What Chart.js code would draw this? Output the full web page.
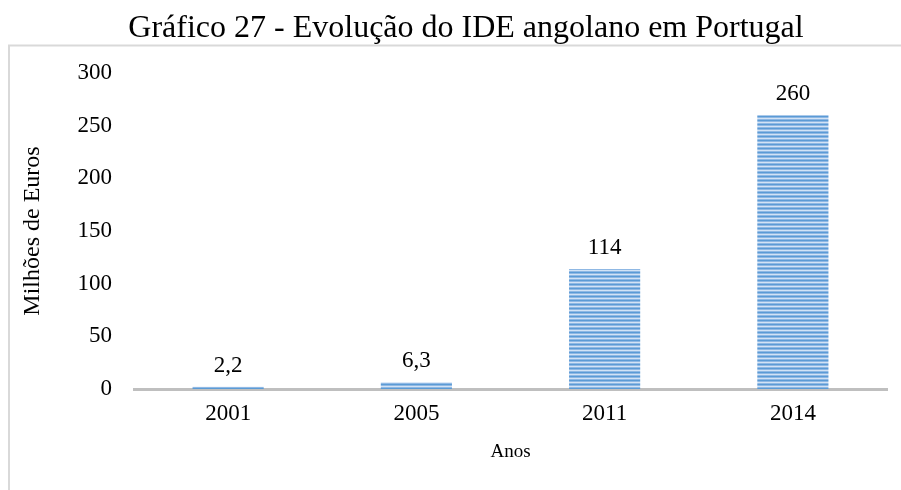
<!DOCTYPE html>
<html>
<head>
<meta charset="utf-8">
<script src="https://cdn.jsdelivr.net/npm/chart.js@4"></script>
<style>
  body { margin: 0; background: #fff; }
  canvas { display: block; }
</style>
</head>
<body>
<canvas id="miCanvas" width="901" height="490"></canvas>
<script>
// dados do gráfico
const anos = ["2001", "2005", "2011", "2014"];
const valores = [2.2, 6.3, 114, 260];
const rotulos = ["2,2", "6,3", "114", "260"];
const titulo = "Gráfico 27 - Evolução do IDE angolano em Portugal";

const fonte = "'Liberation Serif', 'Times New Roman', serif";

// padrão de riscas horizontais para as barras
function riscas() {
  const c = document.createElement("canvas");
  c.width = 1;
  c.height = 4;
  const g = c.getContext("2d");
  const cores = ["#5b9bd5", "#8fb8e4", "#d2e3f5", "#8fb8e4"];
  for (let i = 0; i < cores.length; i++) {
    g.fillStyle = cores[i];
    g.fillRect(0, i, 1, 1);
  }
  return g.createPattern(c, "repeat");
}

// moldura cinzenta e título por cima dela
const moldura = {
  id: "moldura",
  beforeDraw(chart) {
    const ctx = chart.ctx;
    ctx.save();
    ctx.fillStyle = "#fff";
    ctx.fillRect(0, 0, chart.width, chart.height);
    ctx.strokeStyle = "#d9d9d9";
    ctx.lineWidth = 2;
    ctx.beginPath();
    ctx.moveTo(9, chart.height);
    ctx.lineTo(9, 45.5);
    ctx.lineTo(chart.width, 45.5);
    ctx.stroke();

    ctx.font = "32px " + fonte;
    ctx.fillStyle = "#000";
    ctx.textAlign = "center";
    ctx.textBaseline = "middle";
    ctx.fillText(titulo, 466, 29);
    ctx.restore();
  },
};

// valores por cima das barras
const etiquetas = {
  id: "etiquetas",
  afterDatasetsDraw(chart) {
    const ctx = chart.ctx;
    const meta = chart.getDatasetMeta(0);
    ctx.save();
    ctx.font = "23px " + fonte;
    ctx.fillStyle = "#000";
    ctx.textAlign = "center";
    ctx.textBaseline = "middle";
    meta.data.forEach((bar, i) => {
      ctx.fillText(rotulos[i], bar.x, bar.y - 21);
    });
    ctx.restore();
  },
};

const ctx = document.getElementById("miCanvas");

const myChart = new Chart(ctx, {
  type: "bar",
  data: {
    labels: anos,
    datasets: [
      {
        label: "IDE angolano",
        data: valores,
        backgroundColor: riscas(),
        borderWidth: 0,
        categoryPercentage: 1,
        barPercentage: 0.378,
      },
    ],
  },
  options: {
    responsive: false,
    animation: false,
    layout: { padding: { left: 0, right: 14, top: 73, bottom: 0 } },
    scales: {
      x: {
        z: 1,
        grid: { display: false, drawTicks: false },
        border: { display: true, color: "#bfbfbf", width: 3 },
        ticks: { color: "#000", font: { family: fonte, size: 23 }, padding: 11 },
        title: {
          display: true,
          text: "Anos",
          color: "#000",
          font: { family: fonte, size: 19 },
          padding: { top: 0, bottom: 27 },
        },
        afterFit(scale) {
          scale.height = 101;
        },
      },
      y: {
        min: 0,
        max: 300,
        grid: { display: false, drawTicks: false },
        border: { display: false },
        ticks: {
          stepSize: 50,
          color: "#000",
          font: { family: fonte, size: 23 },
          padding: 22,
        },
        title: {
          display: true,
          text: "Milhões de Euros",
          color: "#000",
          font: { family: fonte, size: 24 },
          padding: { top: 18, bottom: 0 },
        },
        afterFit(scale) {
          scale.width = 134;
        },
      },
    },
    plugins: {
      legend: { display: false },
      tooltip: { enabled: false },
      title: { display: false },
    },
  },
  plugins: [moldura, etiquetas],
});
</script>
</body>
</html>
